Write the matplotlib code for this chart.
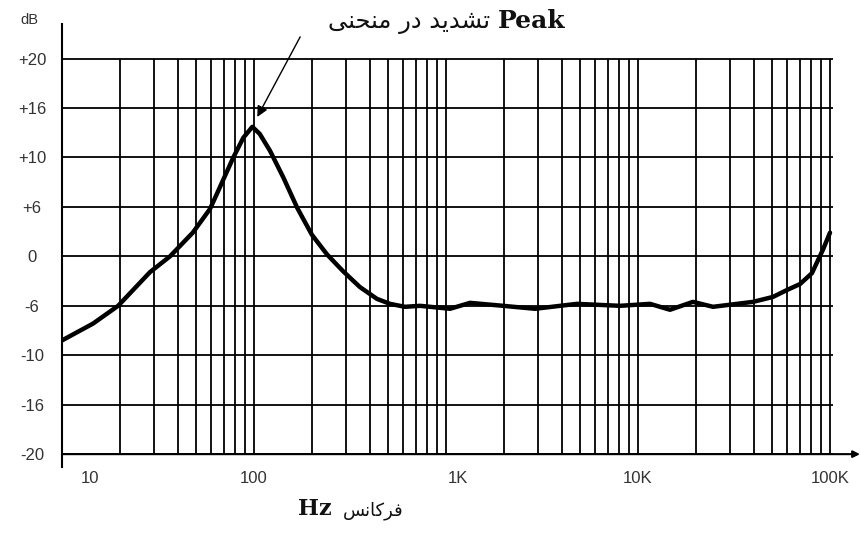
import matplotlib
matplotlib.use("Agg")
import matplotlib.pyplot as plt
import matplotlib.transforms as mtrans

# Curve (frequency in Hz, level in grid units)
freq_hz = [10, 14.5, 19.6, 28.7, 36.5, 48, 59, 64, 78, 88, 98, 107, 121, 142,
           168, 200, 240, 291, 356, 437, 511, 611, 733, 1050, 1334, 1982, 2908,
           4810, 8055, 11550, 14680, 19330, 24600, 39720, 50470, 59700, 69800,
           80500, 92000, 100000]
level_db = [-8.5, -6.8, -5.0, -1.6, 0.0, 2.4, 4.8, 6.3, 10.0, 12.0, 13.1, 12.4,
            10.7, 8.0, 4.9, 2.2, 0.2, -1.5, -3.1, -4.3, -4.8, -5.1, -5.0, -5.3,
            -4.7, -5.0, -5.3, -4.8, -5.0, -4.8, -5.4, -4.6, -5.1, -4.6, -4.1,
            -3.4, -2.8, -1.7, 0.7, 2.4]

y_grid = [20, 15, 10, 5, 0, -5, -10, -15, -20]
y_labels = ["+20", "+16", "+10", "+6", "0", "-6", "-10", "-16", "-20"]
x_ticks = [10, 100, 1000, 10000, 100000]
x_labels = ["10", "100", "1K", "10K", "100K"]

# Persian text written with Arabic presentation forms in visual (left-to-right) order,
# since matplotlib does no shaping: "تشدید در منحنی" and "فرکانس"
title_fa = "\uFEF0\uFEE8\uFEA4\uFEE8\uFEE3 \uFEAD\uFEA9 \uFEAA\uFEF3\uFEAA\uFEB8\uFE97"
xlabel_fa = "\uFEB2\uFEE7\uFE8E\uFEDB\uFEAE\uFED3"

W, H = 862, 534
fig = plt.figure(figsize=(W / 100, H / 100), dpi=100)

def fx(px):
    return px / W

def fy(py):
    return 1 - py / H

decade_px = 192.0
ax = fig.add_axes([fx(62), fy(467), fx(858) - fx(62), fy(24) - fy(467)])
ax.set_xscale("log")
ax.set_xlim(10, 10 ** (1 + (858 - 62) / decade_px))
ax.set_ylim(-21.3, 23.5)

# grid
grid_right = 10 ** (1 + (833 - 62) / decade_px)
ax.hlines(y_grid, 10, grid_right, color="black", lw=1.3, zorder=1)
vlines = [m * 10 ** d for d in range(1, 5) for m in range(2, 11)]
ax.vlines(vlines, -20, 20, color="black", lw=1.3, zorder=1)

# curve
ax.plot(freq_hz, level_db, color="black", lw=3.2, solid_joinstyle="round",
        solid_capstyle="round", zorder=3)

# spines / axis
for s in ["top", "right", "bottom"]:
    ax.spines[s].set_visible(False)
ax.spines["left"].set_linewidth(1.5)
ax.annotate("", xy=(10 ** (1 + (860 - 62) / decade_px), -20), xytext=(10, -20),
            arrowprops=dict(arrowstyle="-|>", color="black", lw=1.5,
                            mutation_scale=10, shrinkA=0, shrinkB=0),
            annotation_clip=False, zorder=2)

ax.set_yticks(y_grid)
ax.set_yticklabels(y_labels)
ax.set_xticks(x_ticks)
ax.set_xticklabels(x_labels)
ax.minorticks_off()
ax.tick_params(axis="both", length=0, labelsize=12, labelcolor="#333333")
ax.tick_params(axis="y", pad=21.6)
ax.tick_params(axis="x", pad=3)
for lbl in ax.get_yticklabels():
    lbl.set_horizontalalignment("center")
    lbl.set_fontfamily("Liberation Sans")
x_shift = {"10": 28, "1K": 12}
for lbl in ax.get_xticklabels():
    lbl.set_fontfamily("Liberation Sans")
    dx = x_shift.get(lbl.get_text(), 0)
    if dx:
        lbl.set_transform(lbl.get_transform() +
                          mtrans.ScaledTranslation(dx / 100, 0, fig.dpi_scale_trans))

fig.text(fx(29), fy(20), "dB", fontsize=10.5, color="#333333",
         family="Liberation Sans", ha="center", va="center")

# peak annotation
ax.annotate("", xy=(104, 14.1), xytext=(174, 22.2),
            arrowprops=dict(arrowstyle="-|>", color="black", lw=1.0,
                            mutation_scale=16, shrinkA=0, shrinkB=0),
            annotation_clip=False, zorder=4)
fig.text(fx(490), fy(28), title_fa, fontsize=17.5, family="DejaVu Sans",
         ha="right", va="baseline", color="#111111")
fig.text(fx(498), fy(28), "Peak", fontsize=18, family="DejaVu Serif",
         weight="bold", ha="left", va="baseline", color="#111111")

# x axis label
fig.text(fx(298), fy(515), "Hz", fontsize=16, family="DejaVu Serif",
         weight="bold", ha="left", va="baseline", color="#111111")
fig.text(fx(343), fy(515), xlabel_fa, fontsize=13, family="DejaVu Sans",
         ha="left", va="baseline", color="#111111")

fig.savefig("out.png", dpi=100)
